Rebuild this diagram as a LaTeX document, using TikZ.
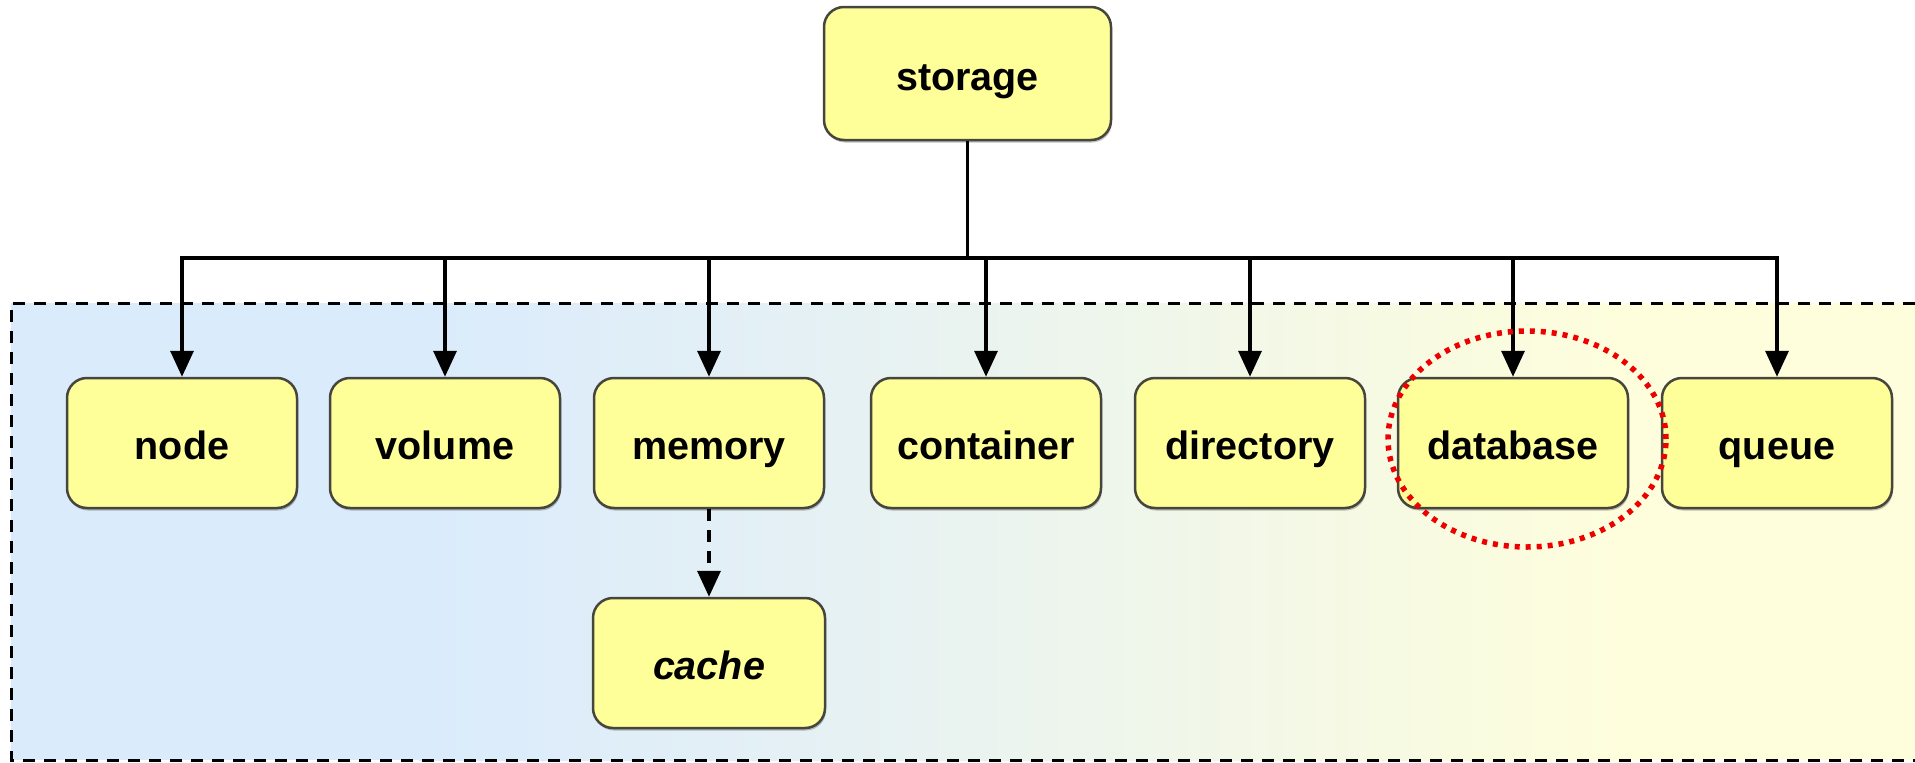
\documentclass[tikz,border=0pt]{standalone}
\usepackage{fontspec}
\setmainfont{Liberation Sans}
\usetikzlibrary{arrows.meta,shadows}

\definecolor{boxfill}{HTML}{FFFF99}
\definecolor{boxline}{HTML}{46463E}
\definecolor{bgblue}{HTML}{DAEBFC}
\definecolor{bgmid}{HTML}{E6F1F3}
\definecolor{bgyellow}{HTML}{FEFEDC}
\definecolor{markred}{HTML}{EE0000}

\tikzset{
  box/.style={draw=boxline, line width=2.5pt, fill=boxfill, rounded corners=20pt,
    minimum width=230pt, minimum height=130pt, inner sep=0pt,
    drop shadow={shadow xshift=1pt, shadow yshift=-2.5pt, opacity=0.35, fill=black!70},
    font=\fontsize{39.5}{47}\selectfont\bfseries,
    text height=33pt, text depth=0pt},
  link/.style={line width=3.5pt, -{Triangle[length=26pt, width=23pt]}},
  weaklink/.style={link, dash pattern=on 12pt off 9pt},
  frame/.style={line width=3pt, dash pattern=on 12pt off 9pt},
  redring/.style={draw=markred, line width=5.5pt, dash pattern=on 5pt off 6pt}
}

\begin{document}
\begin{tikzpicture}[x=1pt, y=1pt]
  \useasboundingbox (0,0) rectangle (1915,-763);

  % shaded group area
  \fill[bgblue] (11,-303) rectangle (420,-760);
  \shade[left color=bgblue, right color=bgmid] (419,-303) rectangle (850,-760);
  \shade[left color=bgmid, right color=bgyellow] (849,-303) rectangle (1620,-760);
  \fill[bgyellow] (1619,-303) rectangle (1915,-760);
  \draw[frame] (1915,-303) -- (11,-303) -- (11,-760) -- (1915,-760);

  % nodes
  \node[box, minimum width=287pt, minimum height=133pt] (storage) at (967.5,-73.5) {storage};
  \node[box] (node)      at (182,-443)  {node};
  \node[box] (volume)    at (445,-443)  {volume};
  \node[box] (memory)    at (709,-443)  {memory};
  \node[box] (container) at (986,-443)  {container};
  \node[box] (directory) at (1250,-443) {directory};
  \node[box] (database)  at (1513,-443) {database};
  \node[box] (queue)     at (1777,-443) {queue};
  \node[box, minimum width=232pt, font=\fontsize{39.5}{47}\selectfont\bfseries\itshape] (cache) at (709,-663) {cache};

  % tree connectors
  \coordinate (bus) at (storage.south |- 0,-258);
  \foreach \child in {node,volume,memory,container,directory,database,queue}
    \draw[link] (storage.south) -- (bus) -| (\child.north);
  \draw[weaklink] (memory.south) -- (cache.north);

  % highlight
  \draw[redring] (1527,-439) ellipse [x radius=139, y radius=108];
\end{tikzpicture}
\end{document}
